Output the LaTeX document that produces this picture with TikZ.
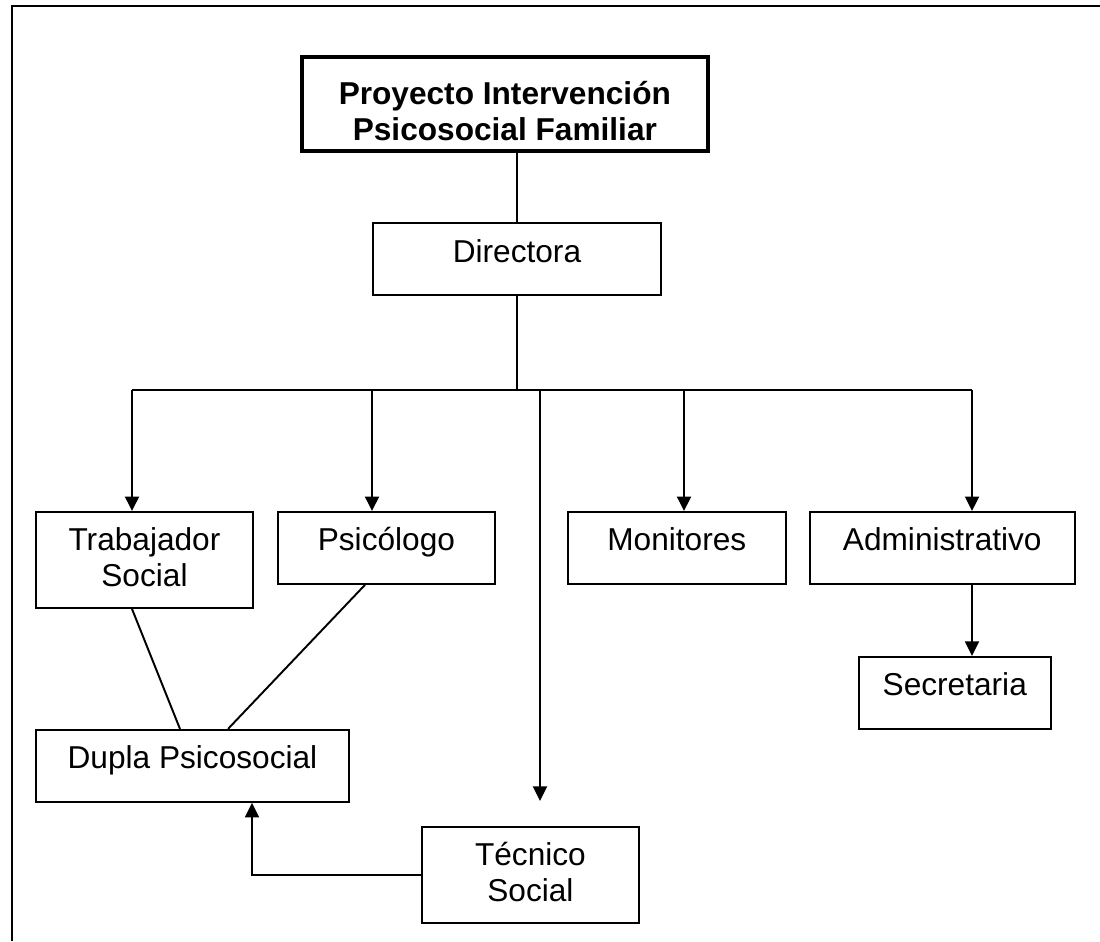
\documentclass[tikz,border=0pt]{standalone}
\usepackage{fontspec}
\setmainfont{Liberation Sans}
\usetikzlibrary{positioning,arrows.meta}

\begin{document}
\begin{tikzpicture}[
	caja/.style={draw, line width=1.1pt, inner sep=0pt, align=center, text height=0.78cm, text depth=0.66cm, font=\fontsize{18}{20.5}\selectfont},
	doble/.style={text height=1.50cm, text depth=0.42cm},
	linea/.style={line width=1.1pt},
	flecha/.style={line width=1.1pt, -{Triangle[length=0.29cm,width=0.28cm]}}]
	\useasboundingbox (0,0) rectangle (22,-18.82);
	\draw[linea] (22,-0.12) -- (0.24,-0.12) -- (0.24,-18.82);

	\node[caja, anchor=north west, minimum width=8.11cm, line width=2.4pt, text height=1.67cm, text depth=0.22cm, font=\fontsize{18}{20.5}\selectfont\bfseries] (proyecto) at (6.0,-1.09) {Proyecto Intervención\\Psicosocial Familiar};
	\node[caja, minimum width=5.76cm, below right=1.38cm and 1.44cm of proyecto.south west] (directora) {Directora};
	\node[caja, doble, anchor=north west, minimum width=4.34cm] (trabajador) at (0.70,-10.22) {Trabajador\\Social};
	\node[caja, minimum width=4.34cm, below right=0cm and 0.46cm of trabajador.north east] (psicologo) {Psicólogo};
	\node[caja, minimum width=4.36cm, below right=0cm and 1.42cm of psicologo.north east] (monitores) {Monitores};
	\node[caja, minimum width=5.30cm, below right=0cm and 0.44cm of monitores.north east] (administrativo) {Administrativo};
	\node[caja, minimum width=3.84cm, below right=1.42cm and 0.98cm of administrativo.south west] (secretaria) {Secretaria};
	\node[caja, minimum width=6.26cm, below right=2.4cm and 0cm of trabajador.south west] (dupla) {Dupla Psicosocial};
	\node[caja, doble, minimum width=4.34cm, below right=0.46cm and 1.42cm of dupla.south east] (tecnico) {Técnico\\Social};

	\draw[linea] (proyecto.south -| directora.north) -- (directora.north);
	\coordinate (bus) at (directora.south |- 0,-7.8);
	\draw[linea] (directora.south) -- (bus);
	\draw[linea] (2.64,-7.8) -- (19.44,-7.8);
	\foreach \n/\x in {trabajador/2.64, psicologo/7.44, monitores/13.68, administrativo/19.44}
		\draw[flecha] (\x,-7.8) coordinate (b-\n) -- (b-\n |- \n.north);
	\draw[flecha] (10.8,-7.8) coordinate (b-tecnico) -- ([yshift=0.5cm]b-tecnico |- tecnico.north);
	\draw[flecha] (b-administrativo |- administrativo.south) -- (b-administrativo |- secretaria.north);
	\draw[linea] (b-trabajador |- trabajador.south) -- ([xshift=2.9cm]dupla.north west);
	\draw[linea] ([xshift=1.76cm]psicologo.south west) -- ([xshift=3.86cm]dupla.north west);
	\draw[flecha] (tecnico.west) -| ([xshift=4.34cm]dupla.south west);
\end{tikzpicture}
\end{document}
